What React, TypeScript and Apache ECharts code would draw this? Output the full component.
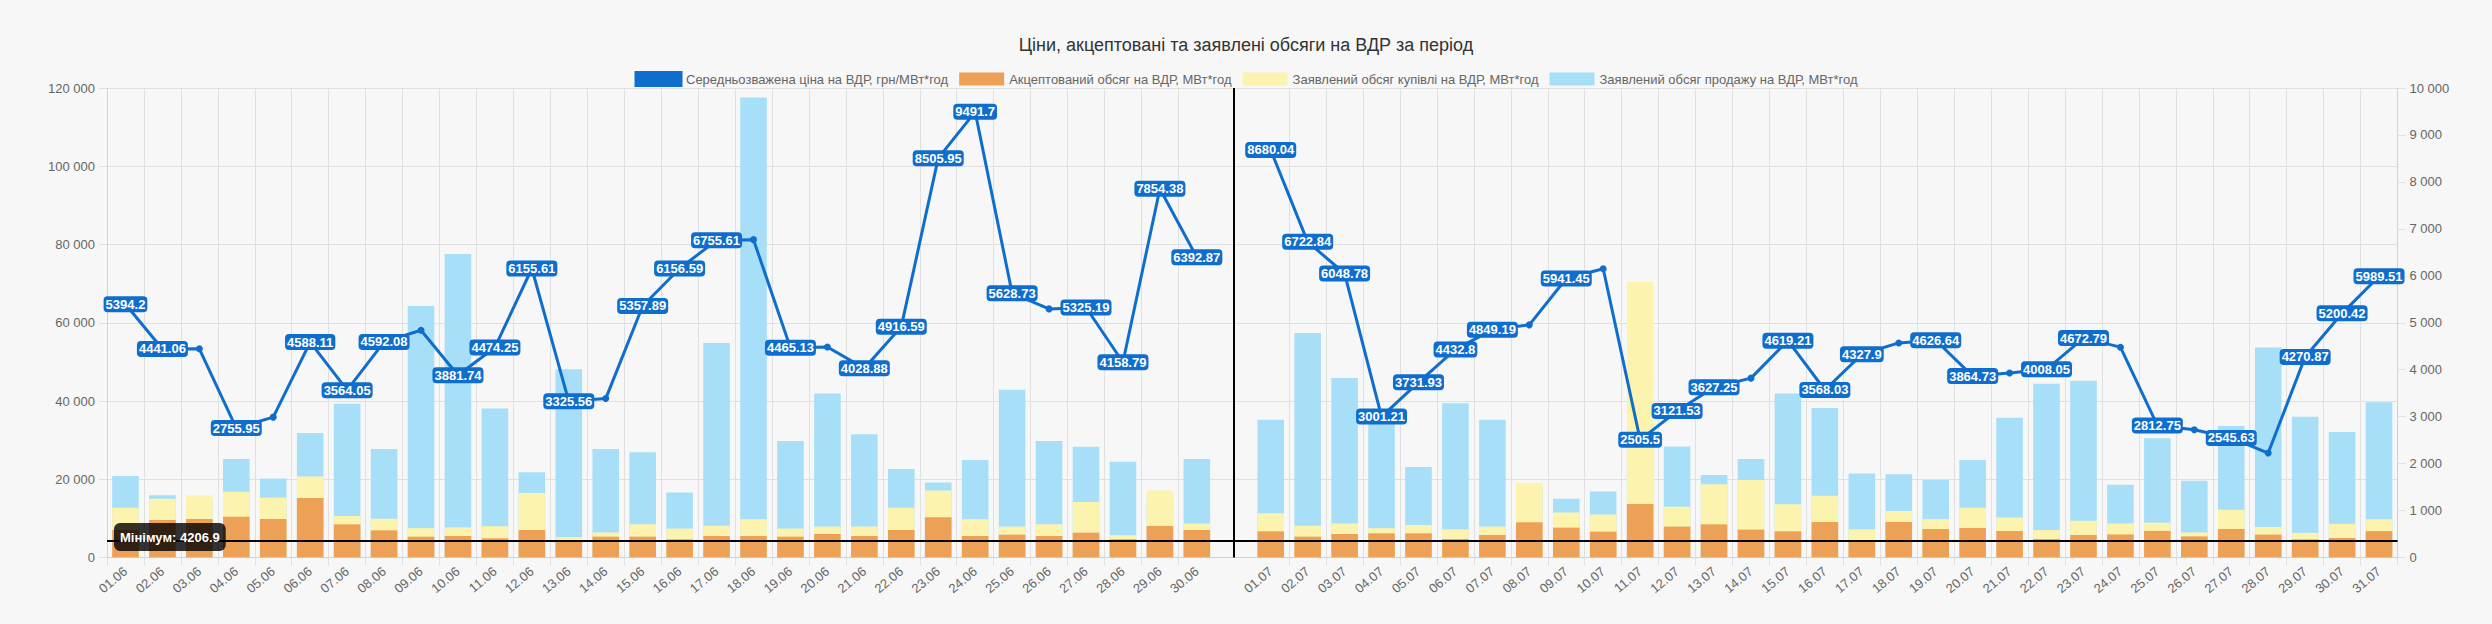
import React, { useEffect, useRef } from 'react';
import * as echarts from 'echarts';

const TITLE = 'Ціни, акцептовані та заявлені обсяги на ВДР за період';
const PRICE_NAME = 'Середньозважена ціна на ВДР, грн/МВт*год';
const ACCEPTED_NAME = 'Акцептований обсяг на ВДР, МВт*год';
const BUY_NAME = 'Заявлений обсяг купівлі на ВДР, МВт*год';
const SELL_NAME = 'Заявлений обсяг продажу на ВДР, МВт*год';

const categories = [
  '01.06', '02.06', '03.06', '04.06', '05.06', '06.06', '07.06', '08.06', '09.06', '10.06',
  '11.06', '12.06', '13.06', '14.06', '15.06', '16.06', '17.06', '18.06', '19.06', '20.06',
  '21.06', '22.06', '23.06', '24.06', '25.06', '26.06', '27.06', '28.06', '29.06', '30.06',
  '',
  '01.07', '02.07', '03.07', '04.07', '05.07', '06.07', '07.07', '08.07', '09.07', '10.07',
  '11.07', '12.07', '13.07', '14.07', '15.07', '16.07', '17.07', '18.07', '19.07', '20.07',
  '21.07', '22.07', '23.07', '24.07', '25.07', '26.07', '27.07', '28.07', '29.07', '30.07',
  '31.07',
];

// weighted average price, UAH/MWh (right axis)
const price = [
  5394.2, 4441.06, 4445, 2755.95, 2990, 4588.11, 3564.05, 4592.08, 4840, 3881.74,
  4474.25, 6155.61, 3325.56, 3385, 5357.89, 6156.59, 6755.61, 6770, 4465.13, 4485,
  4028.88, 4916.59, 8505.95, 9491.7, 5628.73, 5295, 5325.19, 4158.79, 7854.38, 6392.87,
  null,
  8680.04, 6722.84, 6048.78, 3001.21, 3731.93, 4432.8, 4849.19, 4955, 5941.45, 6150,
  2505.5, 3121.53, 3627.25, 3820, 4619.21, 3568.03, 4327.9, 4570, 4626.64, 3864.73,
  3930, 4008.05, 4672.79, 4480, 2812.75, 2720, 2545.63, 2225, 4270.87, 5200.42,
  5989.51,
];

// accepted volume, MWh (left axis)
const acceptedVolume = [
  7000, 9600, 9850, 10440, 9850, 15200, 8480, 6950, 5320, 5500,
  4900, 7030, 4480, 5330, 5330, 4650, 5500, 5500, 5330, 6010,
  5500, 7030, 10280, 5500, 5840, 5500, 6350, 4650, 8060, 7030,
  null,
  6690, 5330, 6010, 6180, 6180, 4730, 5750, 9000, 7630, 6610,
  13680, 7890, 8480, 7120, 6690, 9080, 4206.9, 9080, 7290, 7540,
  6780, 4730, 5750, 5900, 6800, 5400, 7300, 5850, 4640, 4990,
  6740,
];

// declared purchase volume, MWh
const buyVolume = [
  12700, 15000, 15900, 16800, 15300, 20700, 10600, 9900, 7500, 7700,
  8000, 16500, 5200, 6400, 8500, 7400, 8100, 9800, 7400, 7900,
  7900, 12700, 17100, 9800, 7900, 8500, 14200, 5700, 17100, 8700,
  null,
  11300, 8100, 8700, 7500, 8300, 7200, 7900, 19100, 11500, 11000,
  70500, 13000, 18700, 19800, 13600, 15800, 7200, 11900, 9800, 12700,
  10200, 7000, 9400, 8700, 8900, 6400, 12200, 7800, 6300, 8600,
  9800,
];

// declared sale volume, MWh
const sellVolume = [
  20800, 15900, 14800, 25200, 20200, 31800, 39300, 27700, 64300, 77600,
  38100, 21800, 48100, 27700, 26900, 16600, 54800, 117600, 29800, 41900,
  31500, 22600, 19200, 24900, 42900, 29800, 28300, 24500, 15500, 25200,
  null,
  35200, 57400, 45900, 36000, 23150, 39400, 35200, 18000, 15000, 16900,
  28000, 28400, 21100, 25200, 41900, 38200, 21500, 21300, 19800, 24900,
  35700, 44400, 45200, 18600, 30500, 19600, 33600, 53700, 36000, 32100,
  39700,
];

const leftTicks = { min: 0, max: 120000, interval: 20000 };
const rightTicks = { min: 0, max: 10000, interval: 1000 };

const GAP_INDEX = categories.indexOf('');

const FONT = '"Liberation Sans", Arial, Helvetica, sans-serif';
const C_LINE = '#0f6ecd';
const C_ACC = '#eda157';
const C_BUY = '#fcf4ae';
const C_SELL = '#a8dff8';
const GRID_C = '#e0e0e0';
const AXIS_C = '#d2d2d2';
const LABEL_C = '#666666';

const fmt = (v: number) => String(v).replace(/\B(?=(\d{3})+(?!\d))/g, ' ');
const gridFilter = (i: number) => i !== GAP_INDEX && i !== GAP_INDEX + 1;

export default function App() {
  const ref = useRef<HTMLDivElement>(null);

  useEffect(() => {
    if (!ref.current) return;
    const chart = echarts.init(ref.current, null, { renderer: 'svg' });

    const barCommon = {
      type: 'bar',
      barWidth: '72%',
      barGap: '-100%',
      yAxisIndex: 0,
      xAxisIndex: 0,
    };

    chart.setOption({
      animation: false,
      backgroundColor: '#f7f7f7',
      textStyle: { fontFamily: FONT },
      title: {
        text: TITLE,
        left: 'center',
        top: 31,
        textStyle: { fontFamily: FONT, fontSize: 18, fontWeight: 'normal', color: '#333' },
      },
      legend: {
        top: 66,
        left: 'center',
        itemWidth: 45,
        itemHeight: 13,
        itemGap: 11,
        textStyle: { fontFamily: FONT, fontSize: 13, color: LABEL_C },
        data: [
          { name: PRICE_NAME, icon: 'rect', itemStyle: { color: C_LINE, borderColor: C_LINE, borderWidth: 3 } },
          { name: ACCEPTED_NAME, icon: 'rect' },
          { name: BUY_NAME, icon: 'rect' },
          { name: SELL_NAME, icon: 'rect' },
        ],
      },
      grid: { left: 107, right: 94.5, top: 88, bottom: 66.5, containLabel: false },
      xAxis: {
        type: 'category',
        data: categories,
        boundaryGap: true,
        axisLine: { show: true, lineStyle: { color: AXIS_C } },
        axisTick: { show: true, length: 8, interval: gridFilter, lineStyle: { color: GRID_C } },
        splitLine: { show: true, interval: gridFilter, lineStyle: { color: GRID_C } },
        axisLabel: { interval: 0, rotate: 40, margin: 12, fontSize: 13, color: LABEL_C, fontFamily: FONT },
      },
      yAxis: [
        {
          type: 'value',
          position: 'left',
          ...leftTicks,
          axisLine: { show: true, lineStyle: { color: AXIS_C } },
          axisTick: { show: true, length: 8, lineStyle: { color: GRID_C } },
          splitLine: { show: true, lineStyle: { color: GRID_C } },
          axisLabel: { formatter: fmt, margin: 12, fontSize: 13, color: LABEL_C, fontFamily: FONT },
        },
        {
          type: 'value',
          position: 'right',
          ...rightTicks,
          axisLine: { show: true, lineStyle: { color: AXIS_C } },
          axisTick: { show: true, length: 8, lineStyle: { color: GRID_C } },
          splitLine: { show: false },
          axisLabel: { formatter: fmt, margin: 12, fontSize: 13, color: LABEL_C, fontFamily: FONT },
        },
      ],
      series: [
        { ...barCommon, name: SELL_NAME, data: sellVolume, itemStyle: { color: C_SELL } },
        { ...barCommon, name: BUY_NAME, data: buyVolume, itemStyle: { color: C_BUY } },
        {
          ...barCommon,
          name: ACCEPTED_NAME,
          data: acceptedVolume,
          itemStyle: { color: C_ACC },
          markLine: {
            silent: true,
            symbol: 'none',
            animation: false,
            data: [
              {
                type: 'min',
                name: 'min',
                lineStyle: { color: '#000', width: 2, type: 'solid' },
                label: {
                  show: true,
                  position: 'insideStartTop',
                  distance: [7, 4],
                  verticalAlign: 'middle',
                  formatter: (p: any) => 'Мінімум: ' + p.value,
                  backgroundColor: 'rgba(0,0,0,0.8)',
                  color: '#fff',
                  fontWeight: 'bold',
                  fontSize: 13,
                  fontFamily: FONT,
                  padding: [8, 6, 7, 6],
                  borderRadius: 6,
                },
              },
              {
                xAxis: GAP_INDEX,
                lineStyle: { color: '#000', width: 2, type: 'solid' },
                label: { show: false },
              },
            ],
          },
        },
        {
          name: PRICE_NAME,
          type: 'line',
          yAxisIndex: 1,
          data: price,
          connectNulls: false,
          symbol: 'circle',
          symbolSize: 7,
          showAllSymbol: true,
          z: 10,
          lineStyle: { color: C_LINE, width: 3 },
          itemStyle: { color: C_LINE },
          label: {
            show: true,
            position: 'inside',
            backgroundColor: C_LINE,
            color: '#fff',
            fontSize: 13,
            fontWeight: 'bold',
            fontFamily: FONT,
            padding: [2, 2, 1, 2],
            borderRadius: 4,
          },
          labelLayout: { hideOverlap: true },
        },
      ],
    });

    return () => chart.dispose();
  }, []);

  return (
    <div
      ref={ref}
      style={{ position: 'fixed', left: 0, top: 0, width: 2492, height: 624, background: '#f7f7f7' }}
    />
  );
}
